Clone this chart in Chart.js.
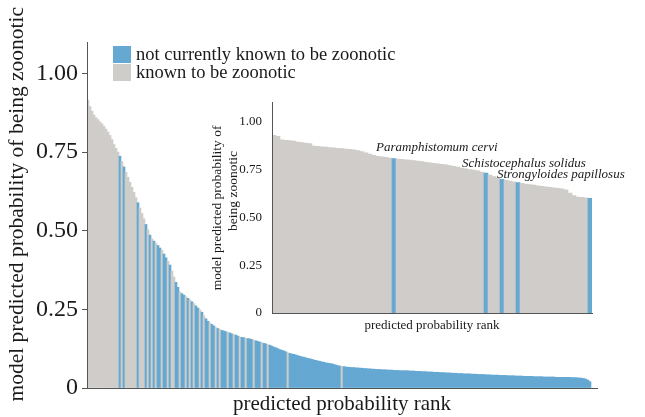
<!DOCTYPE html>
<html>
<head>
<meta charset="utf-8">
<script src="https://cdn.jsdelivr.net/npm/chart.js@4"></script>
<style>
  html, body { margin: 0; padding: 0; background: #fff; }
  #wrap { position: relative; width: 645px; height: 417px; }
  #main { position: absolute; left: 0; top: 0; }
  #inset { position: absolute; left: 205px; top: 85px; }
</style>
</head>
<body>
<div id="wrap">
  <canvas id="main" width="645" height="417"></canvas>
  <canvas id="inset" width="440" height="250"></canvas>
</div>
<script>
// predicted probability per species, ranked (main panel)
const mainValues = [
  0.915, 0.895, 0.880, 0.868, 0.860, 0.853, 0.846, 0.840, 0.832, 0.823,
  0.814, 0.803, 0.790, 0.774, 0.762, 0.750, 0.737, 0.720, 0.703, 0.686,
  0.670, 0.654, 0.638, 0.622, 0.605, 0.589, 0.572, 0.555, 0.538, 0.520,
  0.503, 0.486, 0.474, 0.467, 0.460, 0.453, 0.445, 0.438, 0.426, 0.414,
  0.403, 0.391, 0.372, 0.353, 0.336, 0.320, 0.305, 0.300, 0.295, 0.290,
  0.285, 0.280, 0.274, 0.268, 0.261, 0.254, 0.248, 0.241, 0.229, 0.220,
  0.212, 0.207, 0.202, 0.197, 0.192, 0.189, 0.186, 0.183, 0.181, 0.179,
  0.177, 0.175, 0.172, 0.170, 0.168, 0.165, 0.162, 0.161, 0.160, 0.158,
  0.157, 0.156, 0.154, 0.152, 0.150, 0.148, 0.146, 0.144, 0.142, 0.140,
  0.138, 0.136, 0.133, 0.130, 0.128, 0.125, 0.122, 0.120, 0.118, 0.115,
  0.112, 0.110, 0.108, 0.107, 0.105, 0.103, 0.101, 0.099, 0.098, 0.096,
  0.094, 0.093, 0.091, 0.089, 0.088, 0.086, 0.085, 0.083, 0.082, 0.080,
  0.079, 0.078, 0.077, 0.075, 0.073, 0.071, 0.070, 0.069, 0.068, 0.067,
  0.066, 0.066, 0.065, 0.065, 0.064, 0.064, 0.063, 0.063, 0.062, 0.062,
  0.061, 0.061, 0.060, 0.060, 0.059, 0.059, 0.059, 0.058, 0.058, 0.058,
  0.057, 0.057, 0.057, 0.056, 0.056, 0.056, 0.055, 0.055, 0.055, 0.055,
  0.055, 0.054, 0.054, 0.054, 0.053, 0.053, 0.053, 0.052, 0.052, 0.052,
  0.051, 0.051, 0.051, 0.050, 0.050, 0.050, 0.049, 0.049, 0.049, 0.048,
  0.048, 0.048, 0.047, 0.047, 0.047, 0.046, 0.046, 0.046, 0.045, 0.045,
  0.045, 0.045, 0.044, 0.044, 0.044, 0.043, 0.043, 0.043, 0.043, 0.042,
  0.042, 0.042, 0.041, 0.041, 0.041, 0.041, 0.040, 0.040, 0.040, 0.040,
  0.039, 0.039, 0.039, 0.039, 0.038, 0.038, 0.038, 0.038, 0.037, 0.037,
  0.037, 0.037, 0.037, 0.036, 0.036, 0.036, 0.036, 0.036, 0.035, 0.035,
  0.035, 0.035, 0.035, 0.035, 0.034, 0.034, 0.034, 0.034, 0.034, 0.034,
  0.034, 0.034, 0.033, 0.033, 0.033, 0.032, 0.032, 0.031, 0.030, 0.028,
  0.025, 0.020
];
// ranks (0-based) of species already known to be zoonotic
const mainKnown = [
  0, 1, 2, 3, 4, 5, 6, 7, 8, 9, 10, 11, 12, 13, 14, 15, 17, 19, 20, 21, 22, 23, 24,
  26, 27, 28, 30, 32, 34, 37, 40, 42, 43, 46, 49, 51, 53, 56, 58, 61,
  64, 66, 70, 73, 76, 79, 83, 87, 90, 100, 127
];

// inset: top ranked species
const insetValues = [
  0.930, 0.925, 0.906, 0.904, 0.902, 0.900, 0.895, 0.892, 0.889, 0.886,
  0.874, 0.872, 0.870, 0.868, 0.866, 0.864, 0.862, 0.860, 0.858, 0.856,
  0.854, 0.850, 0.845, 0.838, 0.832, 0.825, 0.820, 0.817, 0.814, 0.811,
  0.808, 0.806, 0.804, 0.802, 0.800, 0.797, 0.795, 0.792, 0.789, 0.786,
  0.783, 0.780, 0.778, 0.775, 0.771, 0.767, 0.763, 0.759, 0.755, 0.751,
  0.748, 0.744, 0.738, 0.732, 0.722, 0.714, 0.708, 0.700, 0.694, 0.690,
  0.686, 0.682, 0.678, 0.675, 0.672, 0.669, 0.666, 0.663, 0.660, 0.657,
  0.655, 0.653, 0.650, 0.645, 0.628, 0.615, 0.607, 0.605, 0.603, 0.600
];
const insetUnknown = [30, 53, 57, 61, 79];
const insetNamed = [30, 53, 61];
const insetNames = ["Paramphistomum cervi", "Schistocephalus solidus", "Strongyloides papillosus"];

const yTicks = [0, 0.25, 0.5, 0.75, 1];
const legendLabels = ["not currently known to be zoonotic", "known to be zoonotic"];

const BLUE = "#65a8d2";
const GRAY = "#cfcdc9";
const INK = "#1a1a1a";
const AXIS = "#555";
const SERIF = "'Liberation Serif', 'Times New Roman', serif";

function tickLabel(v) {
  return v === 0 ? "0" : v.toFixed(2);
}

// legend drawn in the top left of the main panel
const legendPlugin = {
  id: "zoonoticLegend",
  afterDraw(chart) {
    const ctx = chart.ctx;
    const colors = [BLUE, GRAY];
    ctx.save();
    ctx.font = "18.5px " + SERIF;
    ctx.textBaseline = "middle";
    legendLabels.forEach((txt, k) => {
      ctx.fillStyle = colors[k];
      ctx.fillRect(113, 46 + k * 18, 18, 17);
      ctx.fillStyle = INK;
      ctx.fillText(txt, 136, 55 + k * 18);
    });
    ctx.restore();
  }
};

// species names above the highlighted bars of the inset
const namePlugin = {
  id: "speciesNames",
  afterDatasetsDraw(chart) {
    const { ctx, scales } = chart;
    const shift = [[-18, -8], [-24, -6], [-21, -5]];
    ctx.save();
    ctx.font = "italic 13px " + SERIF;
    ctx.fillStyle = INK;
    ctx.textBaseline = "alphabetic";
    insetNamed.forEach((idx, k) => {
      const px = scales.x.getPixelForValue(idx);
      const py = scales.y.getPixelForValue(insetValues[idx]);
      ctx.fillText(insetNames[k], px + shift[k][0], py + shift[k][1]);
    });
    ctx.restore();
  }
};

// main panel
const mainData = mainValues.concat([null, null, null]);
const mainColors = mainValues.map((v, i) => (mainKnown.includes(i) ? GRAY : BLUE));

new Chart(document.getElementById("main"), {
  type: "bar",
  data: {
    labels: mainData.map((v, i) => i + 1),
    datasets: [{
      data: mainData,
      backgroundColor: mainColors,
      borderWidth: 0,
      barPercentage: 1,
      categoryPercentage: 1
    }]
  },
  options: {
    responsive: false,
    animation: false,
    layout: { padding: { top: 42, right: 48, left: 0, bottom: 0 } },
    plugins: { legend: { display: false }, tooltip: { enabled: false } },
    scales: {
      x: {
        grid: { display: false },
        ticks: { display: false },
        border: { display: true, color: AXIS, z: 1 },
        title: {
          display: true,
          text: "predicted probability rank",
          color: INK,
          font: { family: SERIF, size: 21 },
          padding: { top: 0, bottom: 0 }
        },
        afterFit: (s) => { s.height = 29; }
      },
      y: {
        min: 0,
        max: 1.1,
        afterBuildTicks: (s) => { s.ticks = yTicks.map((v) => ({ value: v })); },
        ticks: {
          color: INK,
          padding: 4,
          font: { family: SERIF, size: 24 },
          callback: tickLabel
        },
        grid: { display: true, drawOnChartArea: false, drawTicks: true, tickLength: 5, color: AXIS },
        border: { display: true, color: AXIS, z: 1 },
        title: {
          display: true,
          // leading spaces nudge the centred label upwards, as in the original
          text: "    model predicted probability of being zoonotic",
          color: INK,
          font: { family: SERIF, size: 21.5 },
          padding: { top: 4, bottom: 0 }
        },
        afterFit: (s) => { s.width = 87; }
      }
    }
  },
  plugins: [legendPlugin]
});

// inset panel
const insetColors = insetValues.map((v, i) => (insetUnknown.includes(i) ? BLUE : GRAY));

new Chart(document.getElementById("inset"), {
  type: "bar",
  data: {
    labels: insetValues.map((v, i) => i + 1),
    datasets: [{
      data: insetValues,
      backgroundColor: insetColors,
      borderWidth: 0,
      barPercentage: 1,
      categoryPercentage: 1
    }]
  },
  options: {
    responsive: false,
    animation: false,
    layout: { padding: { top: 9, right: 53, left: 0, bottom: 0 } },
    plugins: { legend: { display: false }, tooltip: { enabled: false } },
    scales: {
      x: {
        grid: { display: false },
        ticks: { display: false },
        border: { display: true, color: AXIS, z: 1 },
        title: {
          display: true,
          text: "predicted probability rank",
          color: INK,
          font: { family: SERIF, size: 13 },
          padding: { top: 0, bottom: 2 }
        },
        afterFit: (s) => { s.height = 22; }
      },
      y: {
        min: 0,
        max: 1.1,
        afterBuildTicks: (s) => { s.ticks = yTicks.map((v) => ({ value: v })); },
        ticks: {
          color: INK,
          padding: 10,
          font: { family: SERIF, size: 13 },
          callback: tickLabel
        },
        grid: { display: false, drawTicks: false },
        border: { display: true, color: AXIS, z: 1 },
        title: {
          display: true,
          // second line sits a little higher in the original
          text: ["model predicted probability of", "          being zoonotic"],
          color: INK,
          font: { family: SERIF, size: 13.5 },
          padding: { top: 4, bottom: 0 }
        },
        afterFit: (s) => { s.width = 67; }
      }
    }
  },
  plugins: [namePlugin]
});
</script>
</body>
</html>
